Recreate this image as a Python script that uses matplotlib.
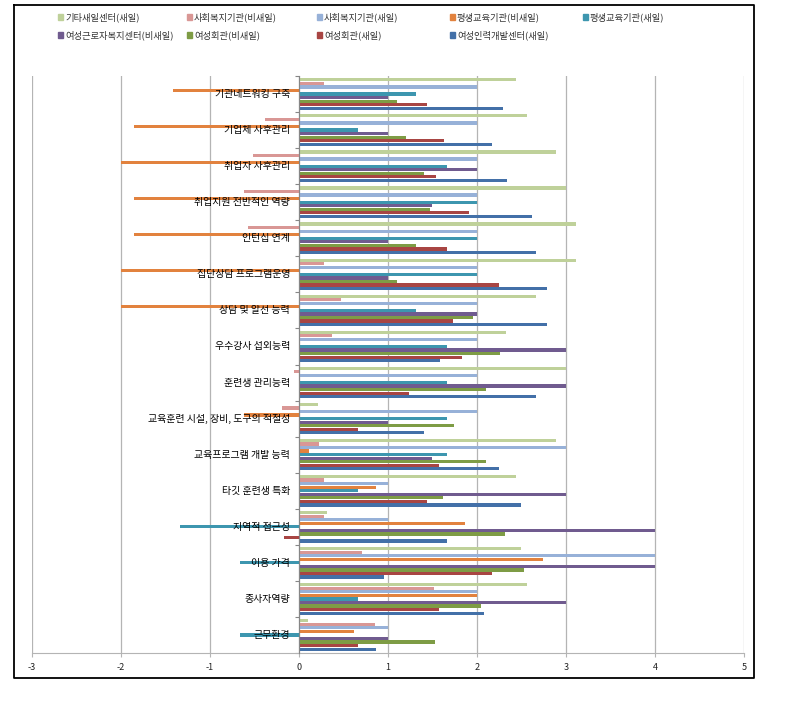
import numpy as np
import matplotlib
matplotlib.use("Agg")
import matplotlib.pyplot as plt
from matplotlib.patches import Rectangle
from matplotlib.lines import Line2D

plt.rcParams['font.family'] = ['Noto Sans CJK KR', 'DejaVu Sans']
plt.rcParams['axes.unicode_minus'] = False

categories = ['기관네트워킹 구축', '기업체 사후관리', '취업자 사후관리', '취업지원 전반적인 역량',
              '인턴십 연계', '집단상담 프로그램운영', '상담 및 알선 능력', '우수강사 섭외능력',
              '훈련생 관리능력', '교육훈련 시설, 장비, 도구의 적절성', '교육프로그램 개발 능력',
              '타깃 훈련생 특화', '지역적 접근성', '이용 가격', '종사자역량', '근무환경']

series_names = ['기타새일센터(새일)', '사회복지기관(비새일)', '사회복지기관(새일)', '평생교육기관(비새일)',
                '평생교육기관(새일)', '여성근로자복지센터(비새일)', '여성회관(비새일)', '여성회관(새일)',
                '여성인력개발센터(새일)']

gita_new = [2.44, 2.56, 2.89, 3.0, 3.11, 3.11, 2.66, 2.33, 3.0, 0.21, 2.89, 2.44, 0.32, 2.49, 2.56, 0.10]
welfare_non = [0.28, -0.38, -0.52, -0.62, -0.57, 0.28, 0.47, 0.37, -0.06, -0.19, 0.23, 0.28, 0.28, 0.71, 1.52, 0.85]
welfare_new = [2, 2, 2, 2, 2, 2, 2, 2, 2, 2, 3, 1, 1, 4, 2, 1]
lifelong_non = [-1.42, -1.85, -2.0, -1.85, -1.85, -2.0, -2.0, 0, 0, -0.62, 0.11, 0.86, 1.86, 2.74, 2.0, 0.62]
lifelong_new = [1.32, 0.66, 1.66, 2.0, 2.0, 2.0, 1.32, 1.66, 1.66, 1.66, 1.66, 0.66, -1.34, -0.66, 0.66, -0.66]
worker_non = [1.0, 1.0, 2.0, 1.49, 1.0, 1.0, 2.0, 3.0, 3.0, 1.0, 1.49, 3.0, 4.0, 4.0, 3.0, 1.0]
hall_non = [1.10, 1.20, 1.41, 1.47, 1.31, 1.10, 1.95, 2.26, 2.10, 1.74, 2.10, 1.62, 2.31, 2.53, 2.04, 1.53]
hall_new = [1.44, 1.63, 1.54, 1.91, 1.66, 2.25, 1.73, 1.83, 1.24, 0.66, 1.57, 1.44, -0.17, 2.17, 1.57, 0.66]
center_new = [2.29, 2.17, 2.34, 2.62, 2.66, 2.79, 2.79, 1.58, 2.66, 1.41, 2.25, 2.49, 1.66, 0.96, 2.08, 0.86]

series_values = [gita_new, welfare_non, welfare_new, lifelong_non, lifelong_new,
                 worker_non, hall_non, hall_new, center_new]
colors = ['#BFD19A', '#D99795', '#97B1D8', '#E2823E', '#3D96AF',
          '#705B8F', '#7E9C45', '#A84543', '#4370A8']

W, H = 792, 709
fig = plt.figure(figsize=(W / 100, H / 100), dpi=100)
ax = fig.add_axes([32 / W, 1 - 653 / H, (744 - 32) / W, (653 - 76) / H])

slot = 0.0987
y = np.arange(len(categories))
for j, vals in enumerate(series_values):
    ax.barh(y + (j - 4) * slot, vals, height=slot * 0.9, color=colors[j], zorder=2)

ax.set_xlim(-3, 5)
ax.set_ylim(len(categories) - 0.5, -0.5)
ax.set_xticks(range(-3, 6))
ax.grid(axis='x', color='#B4B4B4', linewidth=0.9, zorder=0)
ax.set_axisbelow(True)

for s in ['top', 'right']:
    ax.spines[s].set_visible(False)
ax.spines['bottom'].set_color('#B4B4B4')
ax.spines['left'].set_position(('data', 0))
ax.spines['left'].set_color('#868686')
ax.spines['left'].set_zorder(3)

ax.set_yticks(np.arange(len(categories) + 1) - 0.5)
ax.set_yticklabels([])
ax.tick_params(axis='y', length=3, color='#868686')
ax.tick_params(axis='x', length=3, color='#B4B4B4', labelsize=6.5, pad=4, labelcolor='#222222')

for i, c in enumerate(categories):
    ax.text(-0.1, i, c, ha='right', va='center', fontsize=7.2, color='#000000', zorder=5)

# legend
leg_x = [58, 187, 317, 450, 583]
leg_y = [17, 35]
for k, name in enumerate(series_names):
    px = leg_x[k % 5]
    py = leg_y[k // 5]
    fig.patches.append(Rectangle((px / W, 1 - (py + 3) / H), 5 / W, 6 / H,
                                 transform=fig.transFigure, color=colors[k]))
    fig.text((px + 7) / W, 1 - py / H, name, fontsize=6.7, va='center', ha='left', color='#333333')

# outer frame
x0, x1 = 14 / W, 754 / W
y0, y1 = 1 - 678 / H, 1 - 5 / H
fig.lines.append(Line2D([x0, x1, x1, x0, x0], [y1, y1, y0, y0, y1],
                        transform=fig.transFigure, color='black', linewidth=1.3))

plt.savefig('out.png', dpi=100)
